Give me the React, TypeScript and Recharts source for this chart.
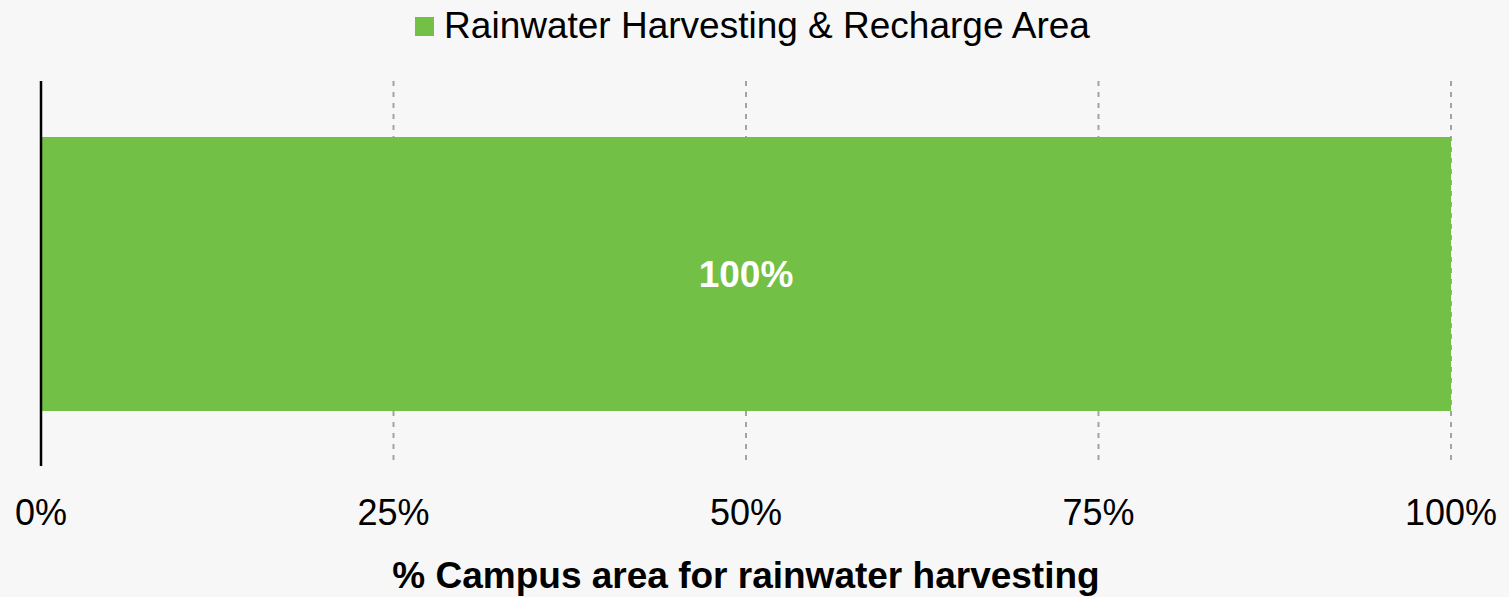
import React from "react";
import {
  Bar,
  BarChart,
  CartesianGrid,
  Label,
  LabelList,
  Legend,
  ReferenceLine,
  XAxis,
  YAxis,
} from "recharts";

const categories = ["Campus"];
const harvestingShare = [100];
const xTicks = [0, 25, 50, 75, 100];

const seriesName = "Rainwater Harvesting & Recharge Area";
const axisTitle = "% Campus area for rainwater harvesting";

const GREEN = "#72c046";
const FONT = "'Liberation Sans', Arial, sans-serif";

const data = categories.map((c, i) => ({ name: c, value: harvestingShare[i] }));

const LegendContent = () => (
  <div
    style={{
      height: 50,
      display: "flex",
      justifyContent: "center",
      alignItems: "center",
      fontFamily: FONT,
      fontSize: 37,
      color: "#000",
      paddingLeft: 0,
    }}
  >
    <span
      style={{
        width: 19,
        height: 19,
        background: GREEN,
        display: "inline-block",
        marginRight: 10,
        marginTop: 2,
        marginLeft: -4,
      }}
    />
    <span style={{ marginTop: 2 }}>{seriesName}</span>
  </div>
);

export default function App() {
  return (
    <div style={{ background: "#f7f7f7", width: 1509, height: 597 }}>
      <style>{`body{margin:0}`}</style>
      <BarChart
        width={1509}
        height={597}
        data={data}
        layout="vertical"
        margin={{ top: 31, right: 58, bottom: 0, left: 41 }}
        style={{ fontFamily: FONT }}
      >
        <CartesianGrid
          horizontal={false}
          stroke="#a3a3a3"
          strokeWidth={2}
          strokeDasharray="5 6"
        />
        <Legend
          verticalAlign="top"
          wrapperStyle={{ top: 0, left: 0, width: 1509 }}
          content={<LegendContent />}
        />
        <XAxis
          type="number"
          domain={[0, 100]}
          ticks={xTicks}
          tickFormatter={(v) => `${v}%`}
          axisLine={false}
          tickLine={false}
          tickMargin={27}
          height={131}
          tick={{ fill: "#000", fontSize: 36, fontFamily: FONT }}
        >
          <Label
            value={axisTitle}
            position="insideBottom"
            offset={9}
            style={{
              fill: "#000",
              fontSize: 37,
              fontWeight: "bold",
              fontFamily: FONT,
            }}
          />
        </XAxis>
        <YAxis type="category" dataKey="name" hide />
        <Bar
          dataKey="value"
          name={seriesName}
          fill={GREEN}
          barSize={274}
          isAnimationActive={false}
        >
          <LabelList
            dataKey="value"
            position="center"
            formatter={(v: number) => `${v}%`}
            style={{
              fill: "#fff",
              fontSize: 37,
              fontWeight: "bold",
              fontFamily: FONT,
            }}
          />
        </Bar>
        <ReferenceLine
          x={0}
          stroke="#000"
          strokeWidth={2.5}
          ifOverflow="visible"
        />
      </BarChart>
    </div>
  );
}
